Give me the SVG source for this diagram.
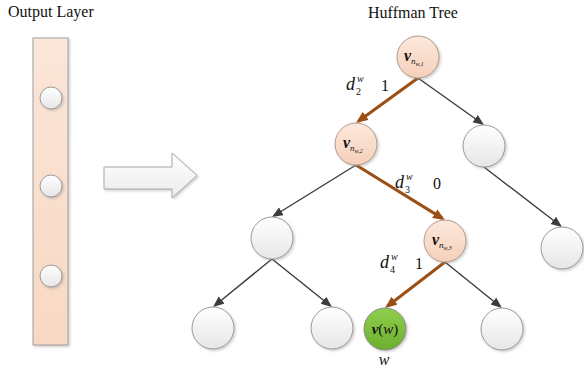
<svg xmlns="http://www.w3.org/2000/svg" width="584" height="370" viewBox="0 0 584 370">
<defs>
<linearGradient id="gWhite" x1="0" y1="0" x2="0" y2="1"><stop offset="0" stop-color="#ffffff"/><stop offset="1" stop-color="#e6e6e6"/></linearGradient>
<linearGradient id="gPeach" x1="0" y1="0" x2="0" y2="1"><stop offset="0" stop-color="#fce8dc"/><stop offset="1" stop-color="#f5d0ba"/></linearGradient>
<linearGradient id="gGreen" x1="0" y1="0" x2="0" y2="1"><stop offset="0" stop-color="#8fcf4c"/><stop offset="1" stop-color="#6cae2e"/></linearGradient>
<linearGradient id="gRect" x1="0" y1="0" x2="0" y2="1"><stop offset="0" stop-color="#fbe6d9"/><stop offset="1" stop-color="#f8d8c2"/></linearGradient>
<linearGradient id="gArrow" x1="0" y1="0" x2="0" y2="1"><stop offset="0" stop-color="#ffffff"/><stop offset="1" stop-color="#ebebeb"/></linearGradient>
<filter id="sh" x="-20%" y="-20%" width="150%" height="150%"><feDropShadow dx="1.5" dy="1.5" stdDeviation="0.8" flood-color="#888" flood-opacity="0.4"/></filter>
<marker id="mBrown" markerUnits="userSpaceOnUse" markerWidth="14" markerHeight="12" refX="9" refY="5" orient="auto"><path d="M0,0 L12,5 L0,10 Z" fill="#9c4f14"/></marker>
<marker id="mGrey" markerUnits="userSpaceOnUse" markerWidth="13" markerHeight="10" refX="9" refY="4.5" orient="auto"><path d="M0,0 L11,4.5 L0,9 Z" fill="#3c3c3c"/></marker>
</defs>
<style>
.t{font-family:"Liberation Serif","Times New Roman",serif;fill:#111}
.title{font-size:16px}
.wn{fill:url(#gWhite);stroke:#9a9a9a;stroke-width:1;filter:url(#sh)}
.pn{fill:url(#gPeach);stroke:#b49a8a;stroke-width:1;filter:url(#sh)}
.gn{fill:url(#gGreen);stroke:#8a8a8a;stroke-width:1;filter:url(#sh)}
.eb{stroke:#9c4f14;stroke-width:3;fill:none;marker-end:url(#mBrown)}
.eg{stroke:#3c3c3c;stroke-width:1.4;fill:none;marker-end:url(#mGrey)}
.v{font-weight:bold;font-style:italic;font-size:16px}
.s1{font-style:italic;font-size:9px}
.s2{font-style:italic;font-size:6px}
.d{font-style:italic;font-size:18px}
.sm{font-style:italic;font-size:10px}
.sub{font-size:10px}
.num{font-size:16px}
</style>

<text class="t title" x="8" y="17">Output Layer</text>
<text class="t title" x="413" y="18" text-anchor="middle">Huffman Tree</text>

<g id="output-layer">
<rect x="33" y="38" width="35" height="307" fill="url(#gRect)" stroke="#a0a0a0" stroke-width="1" filter="url(#sh)"/>
<circle class="wn" cx="51" cy="98" r="11"/>
<circle class="wn" cx="51" cy="186" r="11"/>
<circle class="wn" cx="51" cy="276" r="11"/>
</g>

<g id="big-arrow">
<polygon points="104,167 172,167 172,153 197,175.5 172,198 172,189 104,189" fill="url(#gArrow)" stroke="#a8a8a8" stroke-width="1" filter="url(#sh)"/>
</g>

<g id="connectors">
<line class="eg" x1="418" y1="78" x2="482.4" y2="123.8"/>
<line class="eg" x1="356" y1="165" x2="273.7" y2="216"/>
<line class="eg" x1="272" y1="259" x2="214.6" y2="305.7"/>
<line class="eg" x1="272" y1="259" x2="330.4" y2="305.8"/>
<line class="eg" x1="484" y1="167" x2="560.4" y2="225.8"/>
<line class="eg" x1="445" y1="262" x2="500.4" y2="306.7"/>
<line class="eb" x1="418" y1="78" x2="358.4" y2="121.2"/>
<line class="eb" x1="356" y1="165" x2="442.4" y2="218.4"/>
<line class="eb" x1="445" y1="262" x2="387.4" y2="306.2"/>
</g>

<g id="edge-labels">
<text class="t d" x="346" y="90">d</text>
<text class="t sm" x="357" y="82">w</text>
<text class="t sub" x="356" y="95">2</text>
<text class="t num" x="381" y="91">1</text>
<text class="t d" x="395" y="188">d</text>
<text class="t sm" x="406" y="180">w</text>
<text class="t sub" x="405" y="193">3</text>
<text class="t num" x="433" y="189">0</text>
<text class="t d" x="380" y="268">d</text>
<text class="t sm" x="391" y="260">w</text>
<text class="t sub" x="390" y="273">4</text>
<text class="t num" x="415" y="269">1</text>
</g>

<g id="node-root">
<circle class="pn" cx="418" cy="57" r="21"/>
<text class="t" x="404" y="61"><tspan class="v">v</tspan><tspan class="s1" dy="3">n</tspan><tspan class="s2" dy="2">w,1</tspan></text>
</g>
<g id="node-n2">
<circle class="pn" cx="356" cy="144" r="21"/>
<text class="t" x="343" y="148"><tspan class="v">v</tspan><tspan class="s1" dy="3">n</tspan><tspan class="s2" dy="2">w,2</tspan></text>
</g>
<g id="node-n3">
<circle class="pn" cx="445" cy="241" r="21"/>
<text class="t" x="432" y="245"><tspan class="v">v</tspan><tspan class="s1" dy="3">n</tspan><tspan class="s2" dy="2">w,3</tspan></text>
</g>
<g id="node-r1"><circle class="wn" cx="484" cy="146" r="21"/></g>
<g id="node-r2"><circle class="wn" cx="562" cy="248" r="21"/></g>
<g id="node-l1"><circle class="wn" cx="272" cy="238" r="21"/></g>
<g id="node-l2"><circle class="wn" cx="213" cy="328" r="21"/></g>
<g id="node-l3"><circle class="wn" cx="332" cy="328" r="21"/></g>
<g id="node-n3r"><circle class="wn" cx="502" cy="329" r="21"/></g>
<g id="node-w">
<circle class="gn" cx="385" cy="329" r="21"/>
<text class="t" x="385" y="334" text-anchor="middle" font-size="15px"><tspan font-weight="bold" font-style="italic">v</tspan><tspan>(</tspan><tspan font-style="italic">w</tspan><tspan>)</tspan></text>
<text class="t" x="384" y="365" text-anchor="middle" font-size="16px" font-style="italic">w</text>
</g>
</svg>
